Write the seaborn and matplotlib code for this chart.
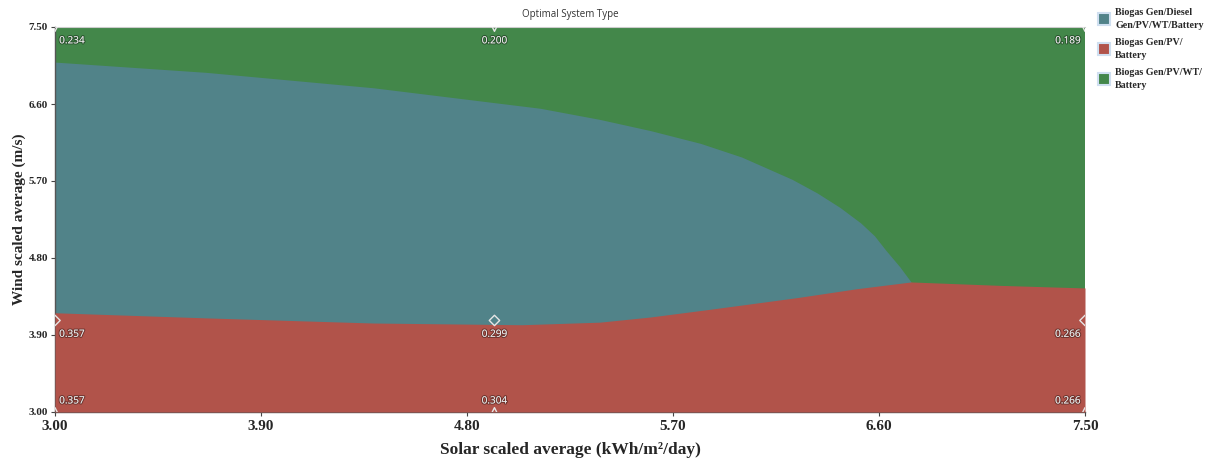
import numpy as np
import pandas as pd
import matplotlib
matplotlib.use("Agg")
import matplotlib.pyplot as plt
import matplotlib.patheffects as pe
from matplotlib.patches import Patch
import seaborn as sns

# ---------------- data ----------------
# Region boundaries
solar_teal = [3.00, 3.66, 4.39, 5.12, 5.38, 5.60, 5.82, 6.00, 6.11, 6.22, 6.33,
              6.43, 6.52, 6.58, 6.63, 6.69, 6.74]
wind_teal_top = [7.09, 6.97, 6.79, 6.55, 6.42, 6.29, 6.14, 5.98, 5.85, 5.72, 5.56,
                 5.39, 5.21, 5.06, 4.89, 4.70, 4.52]

solar_red = [3.00, 3.66, 4.39, 5.04, 5.38, 5.60, 5.86, 6.00, 6.25, 6.50, 6.74, 7.13, 7.50]
wind_red_top = [4.16, 4.10, 4.04, 4.02, 4.05, 4.11, 4.20, 4.25, 4.34, 4.44, 4.52, 4.48, 4.45]

# Sensitivity points and their values
solar_pts = [3.00, 4.92, 7.50]
wind_pts = [3.00, 4.07, 7.50]
values_bottom = [0.357, 0.304, 0.266]
values_middle = [0.357, 0.299, 0.266]
values_top = [0.234, 0.200, 0.189]

categories = ["Biogas Gen/Diesel\nGen/PV/WT/Battery",
              "Biogas Gen/PV/\nBattery",
              "Biogas Gen/PV/WT/\nBattery"]
colors = ["#518389", "#b1534a", "#43874a"]

tick_vals = [3.00, 3.90, 4.80, 5.70, 6.60, 7.50]
tick_labels = ["3.00", "3.90", "4.80", "5.70", "6.60", "7.50"]

# ---------------- figure ----------------
sns.set_theme(style="white")
plt.rcParams["font.family"] = ["DejaVu Sans"]

fig = plt.figure(figsize=(12.09, 4.58), dpi=100)
ax = fig.add_axes([55 / 1209, 1 - 412 / 458, 1030 / 1209, 385 / 458])

xmin, xmax, ymin, ymax = 3.0, 7.5, 3.0, 7.5
ax.set_xlim(xmin, xmax)
ax.set_ylim(ymin, ymax)

ax.fill_between([xmin, xmax], ymin, ymax, color=colors[2], linewidth=0, zorder=1)
ax.fill_between(solar_teal, ymin, wind_teal_top, color=colors[0], linewidth=0, zorder=2)
ax.fill_between(solar_red, ymin, wind_red_top, color=colors[1], linewidth=0, zorder=3)

rows = [(wind_pts[0], values_bottom, "^"), (wind_pts[1], values_middle, "D"),
        (wind_pts[2], values_top, "v")]
for wy, vals, mk in rows:
    df = pd.DataFrame({"solar": solar_pts, "wind": [wy] * 3, "val": vals})
    sns.scatterplot(data=df, x="solar", y="wind", marker=mk, s=40 if mk != "D" else 28,
                    facecolor="none", edgecolor="#e6e6e6", linewidth=1.0,
                    ax=ax, zorder=5, clip_on=True, legend=False)

shadow = [pe.withStroke(linewidth=1.6, foreground=(0, 0, 0, 0.35))]
txt_kw = dict(fontsize=7.2, color="#f2f2f2", zorder=6, path_effects=shadow,
              family=["Open Sans", "DejaVu Sans"])
for wy, vals, mk in rows:
    for i, (sx, v) in enumerate(zip(solar_pts, vals)):
        if i == 0:
            ha, dx = "left", 3
        elif i == 1:
            ha, dx = "center", 0
        else:
            ha, dx = "right", -3
        if mk == "^":
            va, dy = "bottom", 4
        else:
            va, dy = "top", -6
        ax.annotate(f"{v:.3f}", (sx, wy), xytext=(dx, dy), textcoords="offset points",
                    ha=ha, va=va, **txt_kw)

ax.set_xticks(tick_vals)
ax.set_xticklabels(tick_labels, fontsize=11, fontweight="bold",
                   family=["Liberation Serif"])
ax.set_yticks(tick_vals)
ax.set_yticklabels(tick_labels, fontsize=8, fontweight="bold",
                   family=["Liberation Serif"])
ax.tick_params(axis="both", which="both", direction="out", length=3, width=0.8,
               color="#444444", pad=2, left=True, bottom=True)
ax.tick_params(axis="x", pad=3)

ax.set_xlabel("Solar scaled average (kWh/m\u00b2/day)", fontsize=12.5, fontweight="bold",
              family=["Liberation Serif"], labelpad=6)
ax.set_ylabel("Wind scaled average (m/s)", fontsize=11, fontweight="bold",
              family=["Liberation Serif"], labelpad=2)

for s in ["left", "bottom"]:
    ax.spines[s].set_color("#555555")
    ax.spines[s].set_linewidth(1.0)
ax.spines["top"].set_color("#cccccc")
ax.spines["top"].set_linewidth(0.8)
ax.spines["right"].set_visible(False)

fig.text(570 / 1209, 1 - 15 / 458, "Optimal System Type", ha="center", va="center",
         fontsize=7, color="#333333", family=["Open Sans", "DejaVu Sans"])

handles = [Patch(facecolor=c, edgecolor="#cfdff0", linewidth=1.5) for c in colors]
leg = fig.legend(handles, categories, loc="upper left",
                 bbox_to_anchor=(1094 / 1209, 1 - 4 / 458), frameon=False,
                 prop={"family": "Liberation Serif", "weight": "bold", "size": 7.2},
                 handlelength=1.2, handleheight=1.5, handletextpad=0.5,
                 labelspacing=0.85, borderaxespad=0)
for t in leg.get_texts():
    t.set_linespacing(1.5)

fig.savefig("out.png", dpi=100)
